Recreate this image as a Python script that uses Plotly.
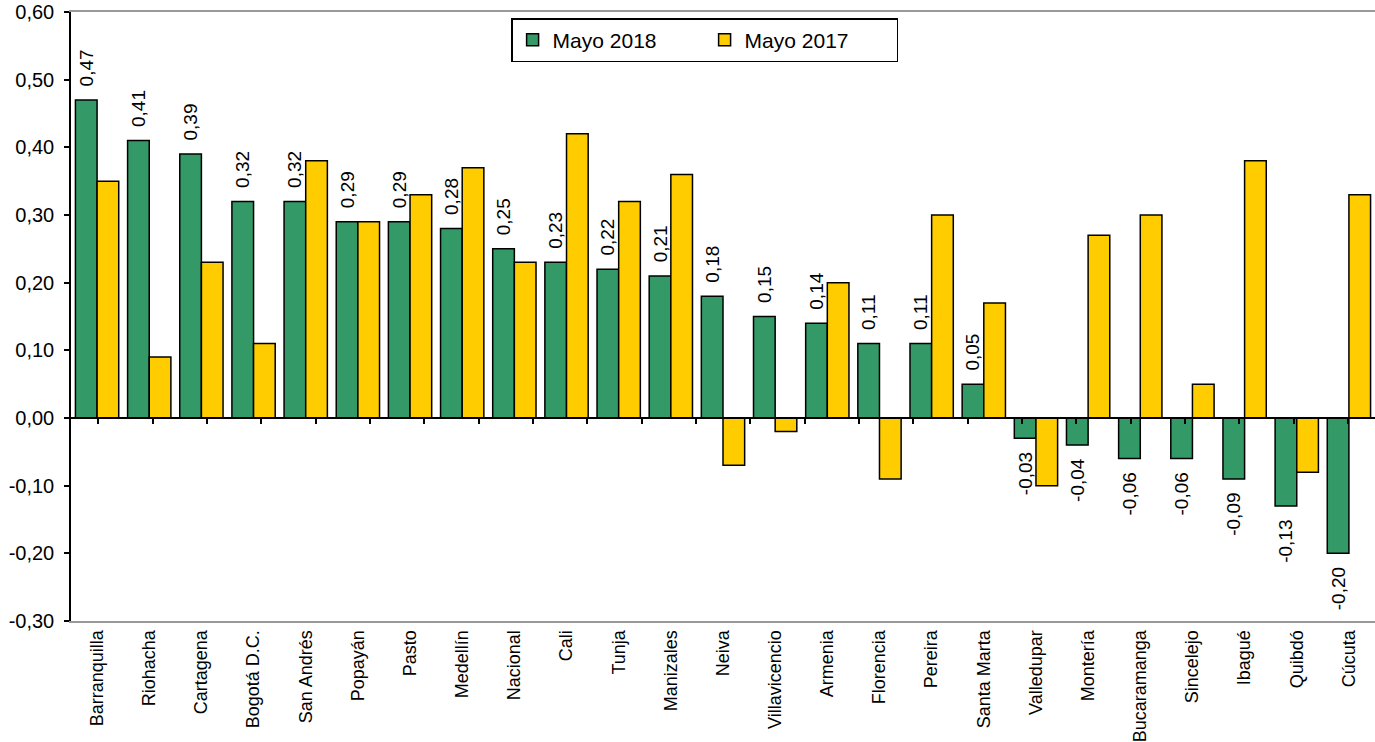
import plotly.graph_objects as go

ciudades = [
    "Barranquilla", "Riohacha", "Cartagena", "Bogotá D.C.", "San Andrés",
    "Popayán", "Pasto", "Medellín", "Nacional", "Cali", "Tunja", "Manizales",
    "Neiva", "Villavicencio", "Armenia", "Florencia", "Pereira", "Santa Marta",
    "Valledupar", "Montería", "Bucaramanga", "Sincelejo", "Ibagué", "Quibdó",
    "Cúcuta",
]
mayo_2018 = [0.47, 0.41, 0.39, 0.32, 0.32, 0.29, 0.29, 0.28, 0.25, 0.23, 0.22,
             0.21, 0.18, 0.15, 0.14, 0.11, 0.11, 0.05, -0.03, -0.04, -0.06,
             -0.06, -0.09, -0.13, -0.20]
mayo_2017 = [0.35, 0.09, 0.23, 0.11, 0.38, 0.29, 0.33, 0.37, 0.23, 0.42, 0.32,
             0.36, -0.07, -0.02, 0.20, -0.09, 0.30, 0.17, -0.10, 0.27, 0.30,
             0.05, 0.38, -0.08, 0.33]
y_ticks = [-0.30, -0.20, -0.10, 0.00, 0.10, 0.20, 0.30, 0.40, 0.50, 0.60]

VERDE = "#339966"
AMARILLO = "#FFCC00"
FUENTE = "Liberation Sans, Arial, sans-serif"
NBSP = "\u00a0"


def coma(v):
    return f"{v:.2f}".replace(".", ",")


def etiqueta(v):
    # labels read bottom-to-top; pad the end nearest the bar
    pad = NBSP * 2
    return pad + coma(v) if v >= 0 else coma(v) + pad


fig = go.Figure()
fig.add_trace(go.Bar(
    name="Mayo 2018", x=ciudades, y=mayo_2018,
    marker=dict(color=VERDE, line=dict(color="black", width=1.5)),
    text=[etiqueta(v) for v in mayo_2018], textposition="outside",
    textangle=-90, constraintext="none", cliponaxis=False,
    textfont=dict(family=FUENTE, size=19, color="black"),
))
fig.add_trace(go.Bar(
    name="Mayo 2017", x=ciudades, y=mayo_2017,
    marker=dict(color=AMARILLO, line=dict(color="black", width=1.5)),
))
# empty helper trace so the zero-level category axis gets its boundaries
fig.add_trace(go.Scatter(
    x=ciudades, y=[None] * len(ciudades), xaxis="x2", yaxis="y",
    mode="lines", showlegend=False, hoverinfo="skip",
))

fig.update_layout(
    width=1375, height=742,
    margin=dict(l=71, r=0, t=12, b=121),
    paper_bgcolor="white", plot_bgcolor="white",
    font=dict(family=FUENTE, color="black"),
    barmode="group", bargap=0.17, bargroupgap=0,
    showlegend=True,
    legend=dict(
        orientation="h", x=0.3375, xanchor="left", y=0.99, yanchor="top",
        bgcolor="white", bordercolor="black", borderwidth=1.5,
        font=dict(family=FUENTE, size=21, color="black"),
        entrywidth=147,
    ),
    xaxis=dict(
        type="category", showgrid=False, zeroline=False,
        showline=True, linecolor="#999999", linewidth=2, mirror=True,
        ticks="", tickangle=-90,
        tickfont=dict(family=FUENTE, size=18, color="black"),
    ),
    xaxis2=dict(
        type="category", overlaying="x", anchor="free", position=1 / 3,
        showline=True, linecolor="black", linewidth=1.5,
        ticks="outside", ticklen=5, tickcolor="black", tickwidth=1.5,
        tickson="boundaries", showticklabels=False, showgrid=False,
        zeroline=False,
    ),
    yaxis=dict(
        range=[-0.30, 0.60], tickvals=y_ticks,
        ticktext=[coma(v) for v in y_ticks],
        showgrid=False, zeroline=False,
        showline=True, linecolor="black", linewidth=1.5,
        ticks="outside", ticklen=5, tickcolor="black", tickwidth=1.5,
        ticklabelstandoff=6,
        tickfont=dict(family=FUENTE, size=20, color="black"),
    ),
)

fig.write_html("out.html")
